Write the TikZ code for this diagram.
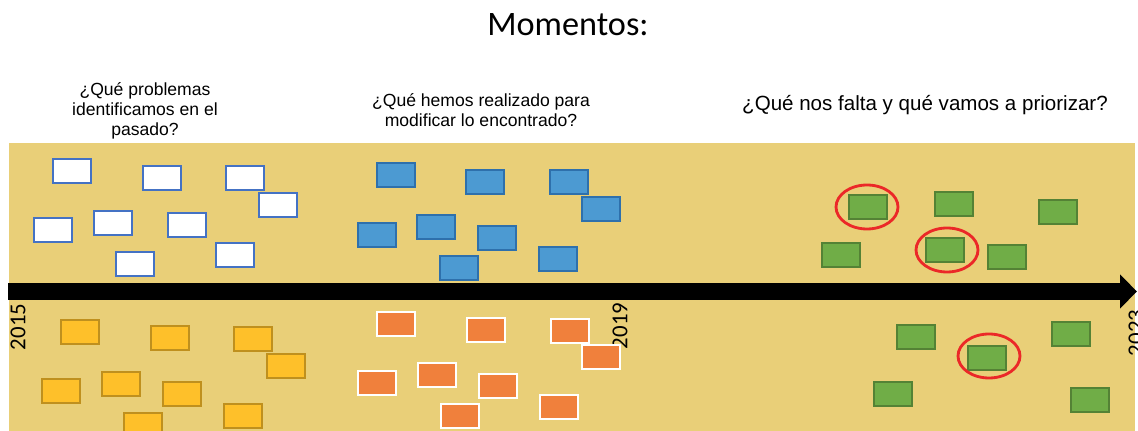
\documentclass[tikz,border=0pt]{standalone}
\usepackage{fontspec}
\setmainfont{Liberation Sans}
\newfontfamily\titlefont{Carlito}
\usepackage{tikz}
\usetikzlibrary{shapes.geometric, arrows.meta}
\definecolor{bandgold}{RGB}{233, 207, 120}
\definecolor{edgeblue}{RGB}{68, 114, 196}
\definecolor{sunyellow}{RGB}{254, 192, 42}
\definecolor{darkgold}{RGB}{191, 144, 30}
\definecolor{skyblue}{RGB}{76, 154, 210}
\definecolor{deepblue}{RGB}{46, 112, 172}
\definecolor{warmorange}{RGB}{240, 128, 60}
\definecolor{leafgreen}{RGB}{112, 173, 71}
\definecolor{darkgreen}{RGB}{84, 130, 53}
\definecolor{ringred}{RGB}{235, 40, 40}

\begin{document}
\begin{tikzpicture}[x=0.02cm, y=-0.02cm,
    card/.style={draw, line width=1pt, minimum width=0.76cm, minimum height=0.48cm, inner sep=0pt},
    past/.style={card, draw=edgeblue, fill=white},
    pastgold/.style={card, draw=darkgold, fill=sunyellow},
    done/.style={card, draw=deepblue, fill=skyblue},
    doneorange/.style={card, draw=white, fill=warmorange},
    todo/.style={card, draw=darkgreen, fill=leafgreen},
    ring/.style={draw=ringred, line width=1.6pt, ellipse, minimum width=1.24cm, minimum height=0.88cm, inner sep=0pt},
    question/.style={align=center, font=\fontsize{10}{11.3}\selectfont},
    year/.style={rotate=90, font=\titlefont\fontsize{13}{13}\selectfont}]
    \useasboundingbox (0,0) rectangle (1138,431);

    % band and time line
    \fill[bandgold] (9,143) rectangle (1135,431);
    \coordinate (start) at (8,291.5);
    \coordinate (tip) at (1137,291.5);
    \draw[line width=0.34cm, -{Triangle[length=0.34cm, width=0.66cm]}] (start) -- (tip);

    % texts
    \node[font=\titlefont\fontsize{19.5}{20}\selectfont] (title) at (568,25) {Momentos:};
    \node[question] (q1) at (145,111) {¿Qué problemas\\identificamos en el\\pasado?};
    \node[question] (q2) at (481,110) {¿Qué hemos realizado para\\modificar lo encontrado?};
    \node[question, font=\fontsize{11.7}{13}\selectfont] (q3) at (925,105) {¿Qué nos falta y qué vamos a priorizar?};

    \node[year] (y15) at (18,327) {2015};
    \node[year] (y19) at (620,326) {2019};
    \node[year] (y23) at (1136,333) {2023};

    % past: problems
    \node[past] (p1) at (72,171) {};
    \node[past] (p2) at (162,178) {};
    \node[past] (p3) at (245,178) {};
    \node[past] (p4) at (278,205) {};
    \node[past] (p5) at (53,230) {};
    \node[past] (p6) at (113,223) {};
    \node[past] (p7) at (187,225) {};
    \node[past] (p8) at (135,264) {};
    \node[past] (p9) at (235,255) {};

    \node[pastgold] (a1) at (80,332) {};
    \node[pastgold] (a2) at (170,338) {};
    \node[pastgold] (a3) at (253,339) {};
    \node[pastgold] (a4) at (286,366) {};
    \node[pastgold] (a5) at (61,391) {};
    \node[pastgold] (a6) at (121,384) {};
    \node[pastgold] (a7) at (182,394) {};
    \node[pastgold] (a8) at (143,425) {};
    \node[pastgold] (a9) at (243,416) {};

    % present: done
    \node[done] (d1) at (396,175) {};
    \node[done] (d2) at (485,182) {};
    \node[done] (d3) at (569,182) {};
    \node[done] (d4) at (601,209) {};
    \node[done] (d5) at (377,235) {};
    \node[done] (d6) at (436,227) {};
    \node[done] (d7) at (497,238) {};
    \node[done] (d8) at (459,268) {};
    \node[done] (d9) at (558,259) {};

    \node[doneorange] (o1) at (396,324) {};
    \node[doneorange] (o2) at (486,330) {};
    \node[doneorange] (o3) at (570,331) {};
    \node[doneorange] (o4) at (601,357) {};
    \node[doneorange] (o5) at (377,383) {};
    \node[doneorange] (o6) at (437,375) {};
    \node[doneorange] (o7) at (498,386) {};
    \node[doneorange] (o8) at (460,416) {};
    \node[doneorange] (o9) at (559,407) {};

    % future: to do
    \node[todo] (g1) at (868,207) {};
    \node[todo] (g2) at (954,204) {};
    \node[todo] (g3) at (1058,212) {};
    \node[todo] (g4) at (841,255) {};
    \node[todo] (g5) at (945,250) {};
    \node[todo] (g6) at (1007,257) {};
    \node[todo] (g7) at (916,337) {};
    \node[todo] (g8) at (987,358) {};
    \node[todo] (g9) at (1071,334) {};
    \node[todo] (g10) at (893,394) {};
    \node[todo] (g11) at (1090,400) {};

    \node[ring] (r1) at (867,207) {};
    \node[ring] (r2) at (947,250) {};
    \node[ring] (r3) at (989,356) {};
\end{tikzpicture}
\end{document}
